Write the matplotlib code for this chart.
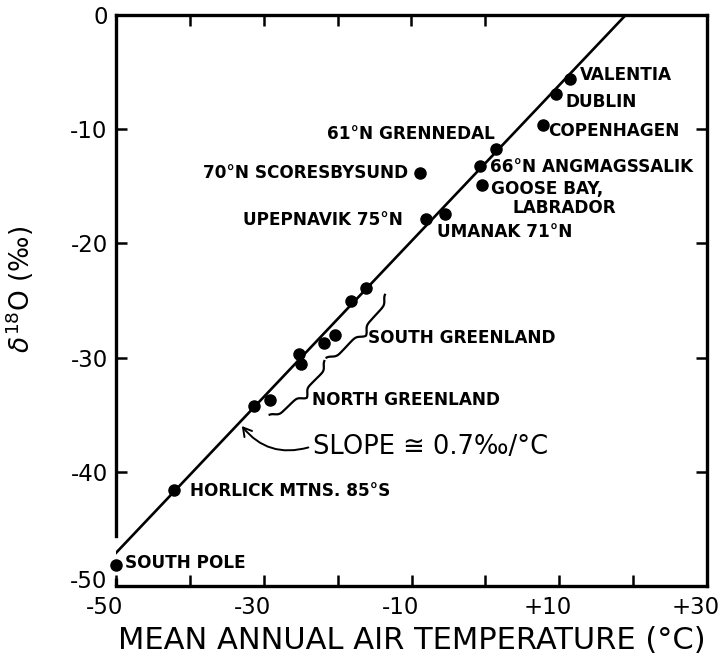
import numpy as np
import matplotlib.pyplot as plt
from matplotlib.ticker import FixedLocator, FuncFormatter
from matplotlib.transforms import ScaledTranslation

# station data: mean annual air temperature (deg C) and delta-18O (permil)
station_names = ["VALENTIA", "DUBLIN", "COPENHAGEN", "61°N GRENNEDAL",
                 "66°N ANGMAGSSALIK", "GOOSE BAY,", "UMANAK 71°N",
                 "UPEPNAVIK 75°N", "70°N SCORESBYSUND",
                 "HORLICK MTNS. 85°S", "SOUTH POLE"]
station_temperature = [11.4, 9.5, 7.8, 1.4, -0.7, -0.5, -5.5, -8.0, -8.9, -42.1, -50.0]
station_delta18o = [-5.6, -6.9, -9.6, -11.7, -13.2, -14.9, -17.4, -17.9, -13.8, -41.6, -48.2]

# greenland ice sheet points (unlabelled)
greenland_temperature = [-16.2, -18.2, -20.4, -21.9, -25.2, -25.0, -29.2, -31.3]
greenland_delta18o = [-23.9, -25.0, -28.0, -28.7, -29.7, -30.6, -33.7, -34.2]

# fitted line (slope ~0.7 permil / deg C)
fit_temperature = [-50.0, 19.0]
fit_delta18o = [-47.1, 0.0]

# label anchors (left edge, vertical centre)
label_x = [12.8, 10.8, 8.5, -21.5, 0.6, 0.8, -6.6, -32.8, -38.2, -40.0, -48.8]
label_y = [-5.25, -7.6, -10.2, -10.4, -13.3, -15.2, -19.0, -17.95, -13.8, -41.7, -48.0]

x_ticks = [-50, -40, -30, -20, -10, 0, 10, 20, 30]
x_tick_labels = {-50: "-50", -30: "-30", -10: "-10", 10: "+10", 30: "+30"}
y_ticks = [-50, -40, -30, -20, -10, 0]

figure = plt.figure(figsize=(7.19, 6.60), dpi=100)
axis = figure.add_axes([116 / 719, 1 - 586 / 660, 591 / 719, 571 / 660])

axis.plot(fit_temperature, fit_delta18o, color="black", linewidth=1.9, zorder=2)
axis.plot(station_temperature, station_delta18o, linestyle="None", marker="o",
          markersize=8, color="black", clip_on=False, zorder=3)
axis.plot(greenland_temperature, greenland_delta18o, linestyle="None", marker="o",
          markersize=8, color="black", zorder=3)

label_style = dict(fontsize=12.2, fontweight="bold", va="center", ha="left", color="black")
for name, x, y in zip(station_names, label_x, label_y):
    axis.text(x, y, name, **label_style)
axis.text(3.7, -16.9, "LABRADOR", **label_style)
axis.text(-15.9, -28.3, "SOUTH GREENLAND", **label_style)
axis.text(-23.5, -33.7, "NORTH GREENLAND", **label_style)
axis.text(-23.4, -37.8, "SLOPE ≅ 0.7‰/°C", fontsize=18.5, va="center", ha="left")

axis.annotate("", xy=(-33.2, -35.8), xytext=(-23.6, -37.8),
              arrowprops=dict(arrowstyle="->,head_length=0.6,head_width=0.35",
                              connectionstyle="arc3,rad=-0.35", color="black",
                              linewidth=1.4))

axis.set_xlim(-50, 30)
axis.set_ylim(-50, 0)


def draw_brace(start, end, depth_px):
    """Curly brace between two data points, tip pointing to the right of start->end."""
    p0 = axis.transData.transform(start)
    p1 = axis.transData.transform(end)
    chord = p1 - p0
    length = np.hypot(*chord)
    along = chord / length
    normal = np.array([along[1], -along[0]])
    if normal[0] < 0:
        normal = -normal
    t = np.linspace(0, 0.5, 100)
    k = 45.0
    half = 1 / (1 + np.exp(-k * (t - 0.05))) + 1 / (1 + np.exp(-k * (t - 0.45)))
    half = (half - half[0]) / (half[-1] - half[0])
    offset = np.concatenate([half, half[::-1]]) * depth_px
    s = np.concatenate([t, 1 - t[::-1]]) * length
    points = p0 + np.outer(s, along) + np.outer(offset, normal)
    data_points = axis.transData.inverted().transform(points)
    axis.plot(data_points[:, 0], data_points[:, 1], color="black", linewidth=1.6)


draw_brace((-13.6, -24.5), (-21.5, -30.0), 14)
draw_brace((-21.8, -30.3), (-29.2, -35.0), 14)

for side in ["left", "right", "top", "bottom"]:
    axis.spines[side].set_linewidth(2.4)
axis.spines["left"].set_bounds(-45.6, 0)
axis.plot([-50, -50], [-50, -49.3], color="black", linewidth=2.4, clip_on=False,
          solid_capstyle="butt")

axis.xaxis.set_major_locator(FixedLocator(x_ticks))
axis.xaxis.set_major_formatter(FuncFormatter(lambda v, pos: x_tick_labels.get(int(round(v)), "")))
axis.yaxis.set_major_locator(FixedLocator(y_ticks))
axis.yaxis.set_major_formatter(FuncFormatter(lambda v, pos: f"{int(round(v))}"))
axis.tick_params(direction="in", length=8, width=1.8, labelsize=16.5, pad=6)
label_shift = ScaledTranslation(-0.11, -0.02, figure.dpi_scale_trans)
for tick_label in axis.get_xticklabels():
    tick_label.set_transform(tick_label.get_transform() + label_shift)
bottom_label = axis.get_yticklabels()[0]
bottom_label.set_transform(bottom_label.get_transform()
                           + ScaledTranslation(0, 0.07, figure.dpi_scale_trans))

top_axis = axis.secondary_xaxis("top")
top_axis.set_xticks([-40, -30, -20, -10, 0])
top_axis.tick_params(direction="in", length=8, width=1.8, labeltop=False)
right_axis = axis.secondary_yaxis("right")
right_axis.set_yticks([-40, -30, -20, -10])
right_axis.tick_params(direction="in", length=8, width=1.8, labelright=False)

axis.set_xlabel("MEAN ANNUAL AIR TEMPERATURE (°C)", fontsize=22, labelpad=5)
axis.set_ylabel(r"$\delta^{18}$O (‰)", fontsize=19)
axis.yaxis.set_label_coords(-0.135, 0.52)

figure.savefig("out.png", dpi=100)
